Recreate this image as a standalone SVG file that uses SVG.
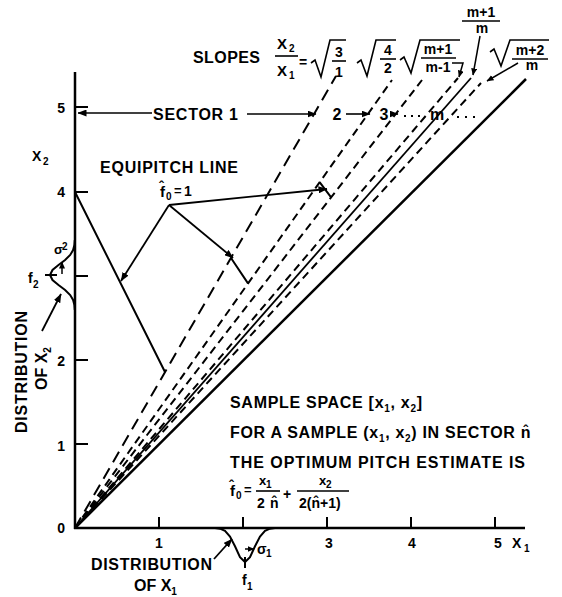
<svg xmlns="http://www.w3.org/2000/svg" width="562" height="597" viewBox="0 0 562 597">
<defs>
<marker id="ah" markerWidth="9" markerHeight="7" refX="8.5" refY="3.5" orient="auto" markerUnits="userSpaceOnUse"><path d="M0,0 L9,3.5 L0,7 z" fill="#000"/></marker>
<marker id="ahs" markerWidth="7" markerHeight="6" refX="6.5" refY="3" orient="auto" markerUnits="userSpaceOnUse"><path d="M0,0 L7,3 L0,6 z" fill="#000"/></marker>
<style>
text{font-family:"Liberation Sans",Arial,sans-serif;font-weight:bold;fill:#000}
.t16{font-size:16px}
.t15{font-size:15px}
.t14{font-size:14px}
.t13{font-size:13px}
.s{font-size:10px}
.ax{stroke:#000;stroke-width:2.5;fill:none}
.tk{stroke:#000;stroke-width:2;fill:none}
.ln{stroke:#000;stroke-width:2;fill:none}
.d1{stroke-dasharray:12 7}
.d2{stroke-dasharray:8 5}
.ar{stroke:#000;stroke-width:1.8;fill:none;marker-end:url(#ah)}
.ars{stroke:#000;stroke-width:1.5;fill:none;marker-end:url(#ahs)}
.th{stroke:#000;stroke-width:1.6;fill:none}
</style>
</defs>
<rect width="562" height="597" fill="#fff"/>

<g id="axes">
<path class="ax" d="M75,72 L75,529 M74,528 L525,528"/>
<path class="tk" d="M75,107 L88,107 M75,192 L88,192 M75,276 L88,276 M75,360 L88,360 M75,444 L88,444"/>
<path class="tk" d="M159,517 L159,528 M243,517 L243,528 M327,517 L327,528 M411,517 L411,528 M495,517 L495,528"/>
<g class="t14" text-anchor="end">
<text x="65" y="113">5</text>
<text x="65" y="197">4</text>
<text x="65" y="366">2</text>
<text x="65" y="451">1</text>
<text x="65" y="533">0</text>
</g>
<g class="t14" text-anchor="middle">
<text x="159" y="548">1</text>
<text x="329" y="548">3</text>
<text x="412" y="548">4</text>
<text x="498" y="548">5</text>
</g>
<text class="t14" x="512" y="548">X</text><text class="s" x="524" y="552">1</text>
<text class="t14" x="32" y="161">X</text><text class="s" x="43" y="165">2</text>
</g>

<g id="connectors">
<path class="ln d1" d="M75,528 L336,76"/>
<path class="ln d2" d="M75,528 L392,80"/>
<path class="ln d2" d="M75,528 L422,80"/>
<path class="ln d2" d="M75,528 L458,78"/>
<path class="ln" style="stroke-width:1.8" d="M75,528 L471,78"/>
<path class="ln d2" d="M75,528 L481,83"/>
<path class="ln" style="stroke-width:2.5" d="M75,528 L526,79"/>
</g>

<g id="equipitch">
<path class="ln" d="M75,192 L165,372 M231,258 L248,283.4 M319.6,182.1 L331.1,197.4"/>
<path class="ar" d="M169,205 L121,281"/>
<path class="ar" d="M169,205 L233,258"/>
<path class="ar" d="M169,205 L327,189"/>
<text class="t16" x="100" y="173" textLength="138" lengthAdjust="spacing">EQUIPITCH LINE</text>
<text class="t15" x="160" y="197">f</text>
<text class="t14" x="159" y="192">ˆ</text>
<text class="s" x="166" y="200">0</text>
<text class="t13" x="174" y="195">=</text>
<text class="t14" x="184" y="196">1</text>
</g>

<g id="sectors">
<path class="th" d="M152,113 L78,113" style="marker-end:url(#ah)"/>
<text class="t16" x="153" y="120" textLength="85" lengthAdjust="spacing">SECTOR 1</text>
<path class="th" d="M247,114 L316,114" style="marker-end:url(#ah)"/>
<text class="t16" x="337" y="120" text-anchor="middle">2</text>
<path class="th" d="M346,114 L370,114" style="marker-end:url(#ah)"/>
<text class="t16" x="384" y="120" text-anchor="middle">3</text>
<path class="th" d="M390,114 L398,114" style="marker-end:url(#ah)"/>
<path d="M404,116 h2 M411,116 h2 M418,116 h2 M457,117 h2 M465,117 h2 M473,117 h2" stroke="#000" stroke-width="2"/>
<text class="t16" x="437" y="120" text-anchor="middle">m</text>
</g>

<g id="slopes">
<text class="t16" x="193" y="63" textLength="67" lengthAdjust="spacing">SLOPES</text>
<text class="t15" x="277" y="49">X</text><text class="s" x="289" y="52">2</text>
<path class="th" d="M275,56 L298,56"/>
<text class="t15" x="277" y="76">X</text><text class="s" x="289" y="79">1</text>
<text class="t14" x="303" y="67" text-anchor="middle">=</text>
<path class="th" d="M311,63 L315,60 L321,77 L330,40 L346,40"/>
<text class="t14" x="339" y="57" text-anchor="middle">3</text>
<path class="th" d="M332,61 L346,61"/>
<text class="t14" x="339" y="77" text-anchor="middle">1</text>
<path class="th" d="M357,63 L361,60 L367,76 L376,40 L396,40"/>
<text class="t14" x="388" y="55" text-anchor="middle">4</text>
<path class="th" d="M380,59 L396,59"/>
<text class="t14" x="388" y="73" text-anchor="middle">2</text>
<path class="th" d="M400,60 L404,57 L411,73 L420,40 L460,40"/>
<text class="t14" x="438" y="54" text-anchor="middle">m+1</text>
<path class="th" d="M421,58 L456,58"/>
<text class="t14" x="438" y="72" text-anchor="middle">m-1</text>
<path class="ars" d="M452,63 L463,63 L459,77"/>
<text class="t14" x="481" y="17" text-anchor="middle">m+1</text>
<path class="th" d="M462,21 L500,21"/>
<text class="t14" x="482" y="33" text-anchor="middle">m</text>
<path class="ars" d="M480,36 L473,75"/>
<path class="th" d="M490,52 L494,49 L501,66 L510,40 L549,40"/>
<text class="t14" x="530" y="55" text-anchor="middle">m+2</text>
<path class="th" d="M512,59 L548,59"/>
<text class="t14" x="532" y="70" text-anchor="middle">m</text>
<path class="ars" d="M518,63 L487,81"/>
</g>

<g id="dist-x2">
<path class="ln" d="M74.8,240 L74.4,245 L73.1,250 L70.2,255 L65.1,260 L58.5,265 L52.5,270 L50,275 L52.5,280 L58.5,285 L65.1,290 L70.2,295 L73.1,300 L74.4,305 L74.8,310"/>
<path class="tk" d="M45,275 L57,275"/>
<path class="ars" d="M62,274 L62,262"/>
<text class="t13" x="54" y="254">σ</text><text class="s" x="62" y="250">2</text>
<text class="t14" x="28" y="283">f</text><text class="s" x="33" y="288">2</text>
<path class="ar" d="M42,331 L61,294"/>
<text class="t16" transform="translate(27,372) rotate(-90)" text-anchor="middle" textLength="122" lengthAdjust="spacing">DISTRIBUTION</text>
<text class="t16" transform="translate(47,390) rotate(-90)">OF X<tspan class="s" dy="4">2</tspan></text>
</g>

<g id="dist-x1">
<path class="ln" d="M215,528.1 L220,528.7 L225,530.9 L230,536.5 L235,546.3 L240,557.1 L245,562 L250,557.1 L255,546.3 L260,536.5 L265,530.9 L270,528.7 L275,528.1"/>
<path class="tk" d="M245,557 L245,568"/>
<path class="ars" d="M245,549 L254,549"/>
<text class="t14" x="257" y="554">σ</text><text class="s" x="266" y="557">1</text>
<text class="t14" x="242" y="585">f</text><text class="s" x="247" y="590">1</text>
<path class="ar" d="M214,559 L232,539"/>
<text class="t16" x="91" y="570" textLength="121" lengthAdjust="spacing">DISTRIBUTION</text>
<text class="t16" x="134" y="591">OF X<tspan class="s" dy="4">1</tspan></text>
</g>

<g id="caption">
<text class="t16" x="230" y="408" letter-spacing="0.7">SAMPLE SPACE [x<tspan class="s" dy="4">1</tspan><tspan dy="-4">, x</tspan><tspan class="s" dy="4">2</tspan><tspan dy="-4">]</tspan></text>
<text class="t16" x="230" y="438" letter-spacing="0.7">FOR A SAMPLE (x<tspan class="s" dy="4">1</tspan><tspan dy="-4">, x</tspan><tspan class="s" dy="4">2</tspan><tspan dy="-4">) IN SECTOR n</tspan></text>
<text class="t14" x="523.3" y="436">ˆ</text>
<text class="t16" x="230" y="468" textLength="295" lengthAdjust="spacing">THE OPTIMUM PITCH ESTIMATE IS</text>
<text class="t15" x="230" y="496">f</text>
<text class="t14" x="229" y="491">ˆ</text>
<text class="s" x="236" y="499">0</text>
<text class="t13" x="244" y="494">=</text>
<text class="t13" x="259" y="485">x</text><text class="s" x="266" y="488">1</text>
<path class="th" d="M256,491 L280,491"/>
<text class="t14" x="257" y="508">2</text>
<text class="t14" x="270" y="508">n</text>
<text class="t14" x="271.7" y="507">ˆ</text>
<text class="t14" x="287" y="499" text-anchor="middle">+</text>
<text class="t13" x="319" y="485">x</text><text class="s" x="326" y="488">2</text>
<path class="th" d="M297,491 L349,491"/>
<text class="t14" x="299" y="508">2(n+1)</text>
<text class="t14" x="313.4" y="507">ˆ</text>
</g>
</svg>
